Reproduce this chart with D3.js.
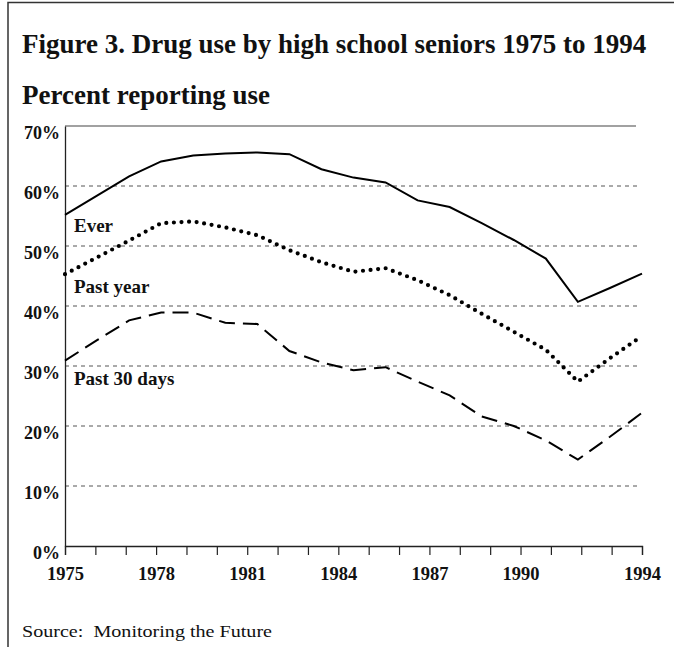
<!DOCTYPE html>
<html><head><meta charset="utf-8">
<script src="https://cdn.jsdelivr.net/npm/d3@7"></script>
<style>
html,body{margin:0;padding:0;background:#fff;}
svg{display:block;}
text{font-family:"Liberation Serif","Times New Roman",serif;fill:#111;}
</style></head>
<body><svg id="c" width="674" height="647"></svg>
<script>
// Data (1991 is absent in the source series; points are evenly spaced)
const years = [1975,1976,1977,1978,1979,1980,1981,1982,1983,1984,1985,1986,1987,1988,1989,1990,1992,1993,1994];
const ever = [55.2,58.4,61.6,64.1,65.1,65.4,65.6,65.3,62.8,61.4,60.6,57.6,56.5,53.8,51.0,47.9,40.7,43.0,45.4];
const pastYear = [45.3,48.1,50.9,53.8,54.1,53.1,51.8,49.3,47.3,45.7,46.3,44.3,41.8,38.7,35.7,32.7,27.4,31.3,35.0];
const past30 = [30.9,34.3,37.6,38.9,38.9,37.2,37.0,32.5,30.6,29.3,29.8,27.4,25.1,21.6,20.0,17.6,14.4,18.2,22.2];
const axisYears = d3.range(1975, 1995);
const yearLabels = [1975,1978,1981,1984,1987,1990,1994];
const yTicks = [0,10,20,30,40,50,60,70];
const gridTicks = [10,20,30,40,50,60];
const seriesNames = ["Ever","Past year","Past 30 days"];
const seriesLabelValues = [52.4, 42.1, 26.8];

const svg = d3.select("#c");
const L = 65, R = 642, T = 126, B = 546;

// frame
svg.append("path").attr("d", `M8,647 V2.5 H674`).attr("fill","none").attr("stroke","#333").attr("stroke-width",1.5);

svg.append("text").attr("x",22).attr("y",53).attr("font-size",27).attr("font-weight","bold")
  .text("Figure 3. Drug use by high school seniors 1975 to 1994");
svg.append("text").attr("x",22).attr("y",104).attr("font-size",27).attr("font-weight","bold")
  .text("Percent reporting use");

const x = d3.scalePoint().domain(years).range([L, R]);
const xa = d3.scaleLinear().domain([1975,1994]).range([L, R]);
const y = d3.scaleLinear().domain([0,70]).range([B, T]);

// grid
svg.append("g").selectAll("line").data(gridTicks).join("line")
  .attr("x1", L).attr("x2", 638).attr("y1", d=>y(d)).attr("y2", d=>y(d))
  .attr("stroke","#555").attr("stroke-width",1).attr("stroke-dasharray","4,4");
// top line
svg.append("line").attr("x1",L).attr("x2",636).attr("y1",y(70)).attr("y2",y(70)).attr("stroke","#444").attr("stroke-width",1.2);

// y axis
const ya = svg.append("g").attr("transform",`translate(${L},0)`)
  .call(d3.axisLeft(y).tickValues(yTicks).tickSize(0).tickPadding(5).tickFormat(d=>d+"%"));
ya.select(".domain").attr("stroke","#222").attr("stroke-width",1.3);
ya.selectAll("text").attr("font-size",18).attr("font-weight","bold").attr("dy","0.68em")
  .attr("font-family","Liberation Serif, serif").attr("fill","#111");

// x axis
const xg = svg.append("g").attr("transform",`translate(0,${B})`)
  .call(d3.axisBottom(xa).tickValues(axisYears).tickSize(9).tickPadding(12)
    .tickFormat(d=> yearLabels.includes(d) ? String(d) : ""));
xg.select(".domain").attr("stroke","#222").attr("stroke-width",1.3);
xg.selectAll(".tick line").attr("stroke","#222").attr("stroke-width",1.2);
xg.selectAll("text").attr("font-size",18.5).attr("font-weight","bold")
  .attr("font-family","Liberation Serif, serif").attr("fill","#111");

// lines
const line = d3.line().x((d,i)=>x(years[i])).y(d=>y(d));
svg.append("path").datum(ever).attr("d",line).attr("fill","none").attr("stroke","#000").attr("stroke-width",2);
svg.append("path").datum(pastYear).attr("d",line).attr("fill","none").attr("stroke","#000").attr("stroke-width",4.2)
  .attr("stroke-linecap","round").attr("stroke-dasharray","0,7.6");
svg.append("path").datum(past30).attr("d",line).attr("fill","none").attr("stroke","#000").attr("stroke-width",2)
  .attr("stroke-dasharray","16,8");

// series labels
svg.append("g").selectAll("text").data(seriesNames).join("text")
  .attr("x",74).attr("y",(d,i)=>y(seriesLabelValues[i]))
  .attr("font-size",19).attr("font-weight","bold").text(d=>d);

svg.append("text").attr("x",22).attr("y",637).attr("font-size",17)
  .attr("textLength",250).attr("lengthAdjust","spacingAndGlyphs")
  .text("Source:\u00a0 Monitoring the Future");
</script></body></html>
